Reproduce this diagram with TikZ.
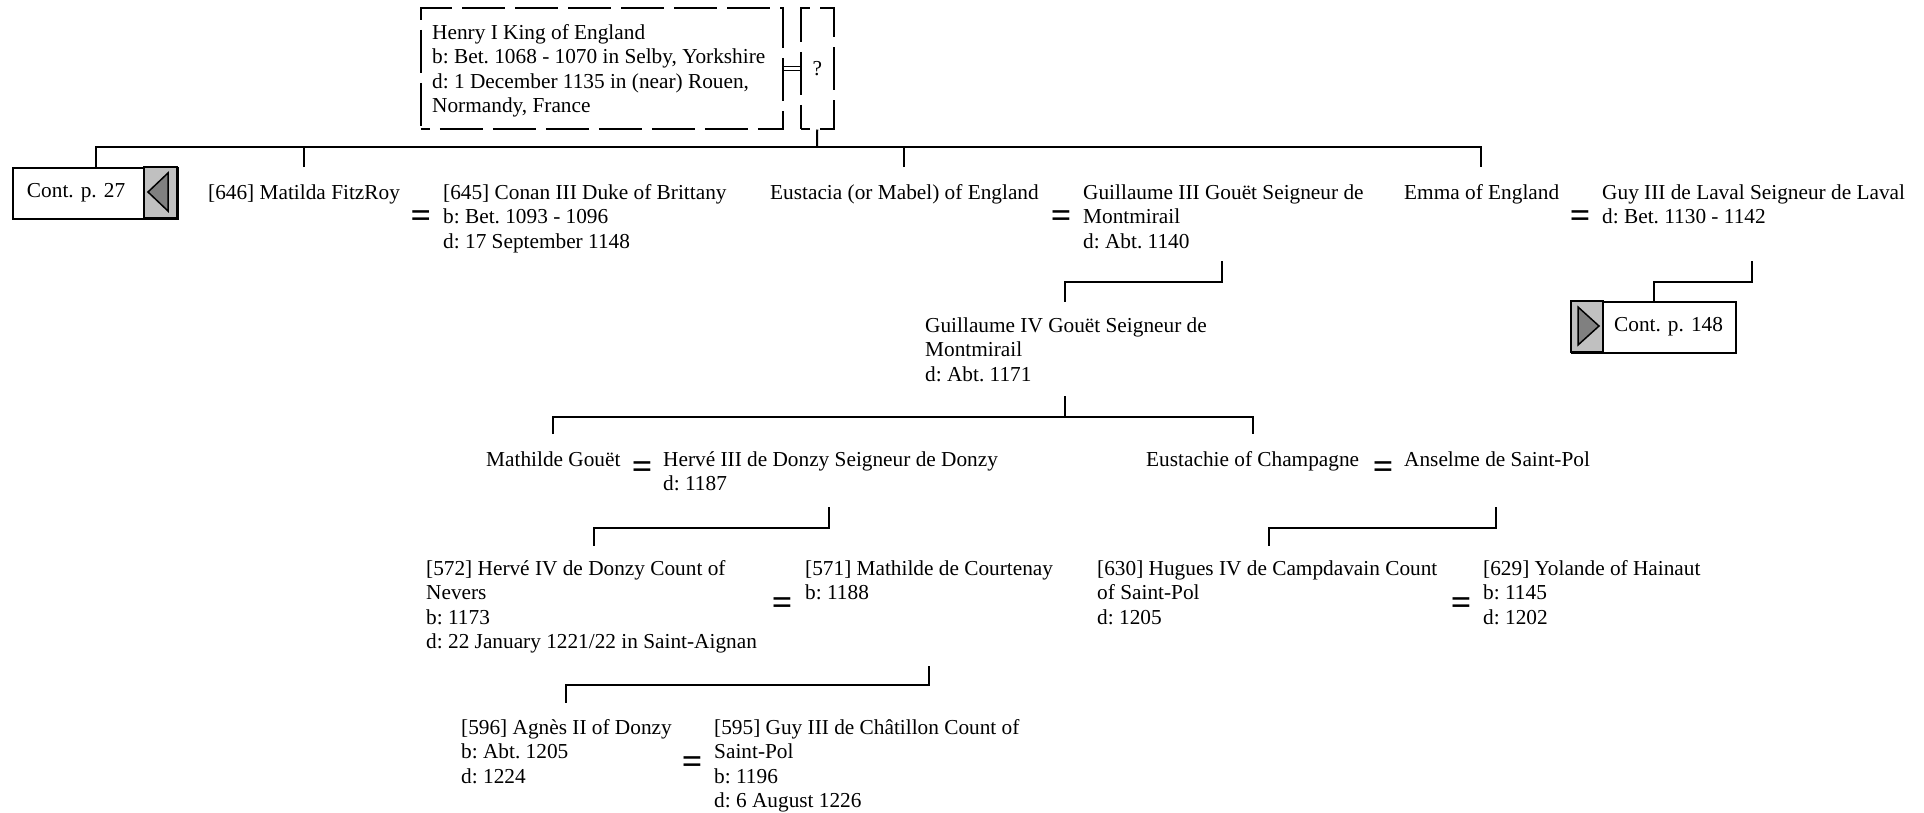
\documentclass[tikz,border=0pt]{standalone}
\usepackage{fontspec}
\setmainfont{Liberation Serif}
\frenchspacing
\definecolor{panelgray}{HTML}{C0C0C0}
\definecolor{trigray}{HTML}{808080}
\tikzset{
  person/.style={anchor=north west, inner sep=0pt, align=left, font=\fontsize{21.3pt}{24.5pt}\selectfont\frenchspacing},
  eqsign/.style={inner sep=0pt, font=\fontsize{36pt}{36pt}\selectfont\bfseries},
  conn/.style={line width=2pt},
  frame/.style={draw, line width=1.5pt, dash pattern=on 43pt off 10pt, dash phase=34pt, anchor=north west, inner sep=0pt},
  contbox/.style={draw, line width=2pt, anchor=north west, minimum height=51pt, inner ysep=0pt,
     text height=8.5pt, text depth=1pt, font=\fontsize{21.3pt}{24.5pt}\selectfont\frenchspacing},
  panel/.style={fill=panelgray, draw, line width=2pt},
  tri/.style={fill=trigray, draw, line width=1.5pt, line join=miter}
}
\begin{document}
\begin{tikzpicture}[x=1pt,y=-1pt]
\useasboundingbox (0,0) rectangle (1924,812);
\fill[white] (0,0) rectangle (1924,812);

% Henry I and unknown spouse
\node[person] (henry) at (432,22) {\strut Henry I King of England\\b: Bet. 1068 - 1070 in Selby, Yorkshire\\d: 1 December 1135 in (near) Rouen,\\Normandy, France};
\node[frame, minimum width=362pt, minimum height=121pt] (henrybox) at (420,7) {};
\node[frame, minimum width=33pt, minimum height=121pt, font=\fontsize{21.3pt}{24.5pt}\selectfont] (spouse) at (800,7) {?};
\draw[double, double distance=2.5pt, line width=1.2pt] (henrybox.east) -- (spouse.west);

% continuation boxes
\node[contbox, minimum width=165pt, text width=137pt, inner xsep=14pt, align=left] (cont27) at (12,167) {Cont. p. 27};
\filldraw[panel] (144,167) rectangle (177,218);
\filldraw[tri] (148,192) -- (168,173) -- (168,211) -- cycle;

\node[contbox, minimum width=164pt, text width=138pt, inner xsep=13pt, align=right] (cont148) at (1571,301) {Cont. p. 148};
\filldraw[panel] (1571,301) rectangle (1603,352);
\filldraw[tri] (1599,326) -- (1578,307) -- (1578,345) -- cycle;

% row 1
\node[person] (matilda) at (208,182) {\strut [646] Matilda FitzRoy};
\node[eqsign] (eq1) at (421,219) {=};
\node[person] (conan) at (443,182) {\strut [645] Conan III Duke of Brittany\\b: Bet. 1093 - 1096\\d: 17 September 1148};
\node[person] (eustacia) at (770,182) {\strut Eustacia (or Mabel) of England};
\node[eqsign] (eq2) at (1061,219) {=};
\node[person] (guill3) at (1083,182) {\strut Guillaume III Gouët Seigneur de\\Montmirail\\d: Abt. 1140};
\node[person] (emma) at (1404,182) {\strut Emma of England};
\node[eqsign] (eq3) at (1580,219) {=};
\node[person] (guylaval) at (1602,182) {\strut Guy III de Laval Seigneur de Laval\\d: Bet. 1130 - 1142};

% row 2
\node[person] (guill4) at (925,315) {\strut Guillaume IV Gouët Seigneur de\\Montmirail\\d: Abt. 1171};

% row 3
\node[person] (mathildeg) at (486,449) {\strut Mathilde Gouët};
\node[eqsign] (eq4) at (642,470) {=};
\node[person] (herve3) at (663,449) {\strut Hervé III de Donzy Seigneur de Donzy\\d: 1187};
\node[person] (eustachie) at (1146,449) {\strut Eustachie of Champagne};
\node[eqsign] (eq5) at (1383,470) {=};
\node[person] (anselme) at (1404,449) {\strut Anselme de Saint-Pol};

% row 4
\node[person] (herve4) at (426,558) {\strut [572] Hervé IV de Donzy Count of\\Nevers\\b: 1173\\d: 22 January 1221/22 in Saint-Aignan};
\node[eqsign] (eq6) at (782,606) {=};
\node[person] (mathildec) at (805,558) {\strut [571] Mathilde de Courtenay\\b: 1188};
\node[person] (hugues) at (1097,558) {\strut [630] Hugues IV de Campdavain Count\\of Saint-Pol\\d: 1205};
\node[eqsign] (eq7) at (1461,606) {=};
\node[person] (yolande) at (1483,558) {\strut [629] Yolande of Hainaut\\b: 1145\\d: 1202};

% row 5
\node[person] (agnes) at (461,717) {\strut [596] Agnès II of Donzy\\b: Abt. 1205\\d: 1224};
\node[eqsign] (eq8) at (692,765) {=};
\node[person] (guychat) at (714,717) {\strut [595] Guy III de Châtillon Count of\\Saint-Pol\\b: 1196\\d: 6 August 1226};

% connector end points
\coordinate (bar1) at (817,147);
\coordinate (matildatop) at (304,167);
\coordinate (eustaciatop) at (904,167);
\coordinate (emmatop) at (1481,167);
\coordinate (g3c) at (1222,261);
\coordinate (g4top) at (1065,302);
\coordinate (gyc) at (1752,261);
\coordinate (g4c) at (1065,396);
\coordinate (bar2) at (1065,417);
\coordinate (mgtop) at (553,434);
\coordinate (ectop) at (1253,434);
\coordinate (h3c) at (829,507);
\coordinate (h4top) at (594,546);
\coordinate (asc) at (1496,507);
\coordinate (hutop) at (1269,546);
\coordinate (mcc) at (929,666);
\coordinate (agtop) at (566,703);

% connectors
\draw[conn] (spouse.south) -- (bar1);
\draw[conn] (cont27.north) |- (bar1) -| (emmatop);
\draw[conn] (matildatop) -- (matildatop |- bar1);
\draw[conn] (eustaciatop) -- (eustaciatop |- bar1);
\draw[conn] (g3c) -- ++(0,21) -| (g4top);
\draw[conn] (gyc) -- ++(0,21) -| (cont148.north);
\draw[conn] (g4c) -- (bar2);
\draw[conn] (mgtop) |- (bar2) -| (ectop);
\draw[conn] (h3c) -- ++(0,21) -| (h4top);
\draw[conn] (asc) -- ++(0,21) -| (hutop);
\draw[conn] (mcc) -- ++(0,19) -| (agtop);
\end{tikzpicture}
\end{document}
